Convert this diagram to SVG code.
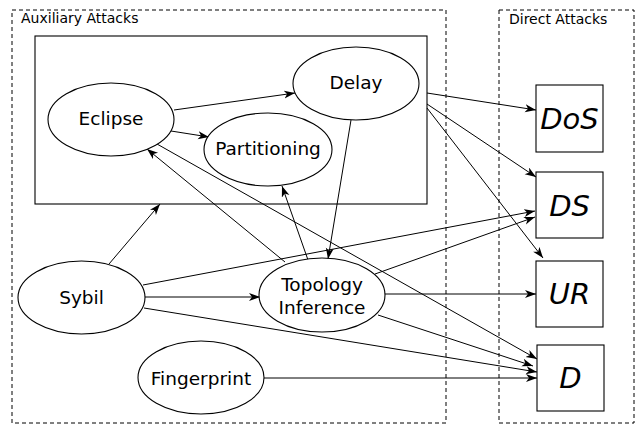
<svg xmlns="http://www.w3.org/2000/svg" width="639" height="425" viewBox="0 0 639 425">
<defs>
<marker id="ah" markerUnits="userSpaceOnUse" markerWidth="12" markerHeight="10" refX="11" refY="4" orient="auto">
<path d="M0,0 L11,4 L0,8 L3,4 z" fill="#000"/>
</marker>
<style>
.grp{fill:none;stroke:#000;stroke-width:1;stroke-dasharray:4,3}
.node{fill:#fff;stroke:#000;stroke-width:1.1}
.lbl{font-family:"DejaVu Sans",sans-serif;font-size:18.5px;text-anchor:middle;fill:#000}
.big{font-family:"DejaVu Sans",sans-serif;font-size:29px;font-style:italic;text-anchor:middle;fill:#000}
.gl{font-family:"DejaVu Sans",sans-serif;font-size:14px;fill:#000}
.e{fill:none;stroke:#000;stroke-width:1;marker-end:url(#ah)}
</style>
</defs>
<rect width="639" height="425" fill="#fff"/>
<g id="auxiliary">
<rect class="grp" x="12" y="10" width="434" height="413"/>
<text class="gl" x="21" y="23">Auxiliary Attacks</text>
</g>
<g id="direct">
<rect class="grp" x="499" y="10" width="135" height="413"/>
<text class="gl" x="509" y="24">Direct Attacks</text>
</g>
<g id="cluster">
<rect x="35" y="36" width="392" height="168" fill="none" stroke="#000" stroke-width="1.1"/>
</g>
<g id="connectors">
<line class="e" x1="174" y1="110" x2="295" y2="93"/>
<line class="e" x1="171" y1="131" x2="209" y2="137"/>
<line class="e" x1="427" y1="93" x2="536" y2="110"/>
<line class="e" x1="427" y1="104" x2="536" y2="177"/>
<line class="e" x1="427" y1="108" x2="543" y2="258"/>
<line class="e" x1="351" y1="120" x2="328" y2="259"/>
<line class="e" x1="285" y1="262" x2="147" y2="149"/>
<line class="e" x1="157" y1="144" x2="537" y2="359"/>
<line class="e" x1="308" y1="260" x2="282" y2="186"/>
<line class="e" x1="109" y1="264" x2="160" y2="204"/>
<line class="e" x1="143" y1="285" x2="535" y2="211"/>
<line class="e" x1="375" y1="274" x2="535" y2="217"/>
<line class="e" x1="145" y1="297" x2="260" y2="297"/>
<line class="e" x1="385" y1="294" x2="536" y2="294"/>
<line class="e" x1="378" y1="315" x2="533" y2="366"/>
<line class="e" x1="144" y1="308" x2="537" y2="372"/>
<line class="e" x1="264" y1="378" x2="537" y2="378"/>
</g>
<g id="eclipse">
<ellipse class="node" cx="111" cy="119.5" rx="63" ry="36.5"/>
<text class="lbl" x="111" y="125">Eclipse</text>
</g>
<g id="partitioning">
<ellipse class="node" cx="268" cy="149.5" rx="64" ry="36.5"/>
<text class="lbl" x="268" y="155">Partitioning</text>
</g>
<g id="delay">
<ellipse class="node" cx="356" cy="83.5" rx="63" ry="36.5"/>
<text class="lbl" x="356" y="89">Delay</text>
</g>
<g id="sybil">
<ellipse class="node" cx="81.5" cy="297.5" rx="63.5" ry="36.5"/>
<text class="lbl" x="81.5" y="304">Sybil</text>
</g>
<g id="topology">
<ellipse class="node" cx="322" cy="295" rx="63" ry="37"/>
<text class="lbl" x="322" y="291">Topology</text>
<text class="lbl" x="322" y="314">Inference</text>
</g>
<g id="fingerprint">
<ellipse class="node" cx="201" cy="377.5" rx="63" ry="36.5"/>
<text class="lbl" x="201" y="385">Fingerprint</text>
</g>
<g id="dos">
<rect class="node" x="536" y="85" width="67" height="67"/>
<text class="big" x="569.5" y="129">DoS</text>
</g>
<g id="ds">
<rect class="node" x="536" y="172" width="67" height="66"/>
<text class="big" x="569.5" y="216">DS</text>
</g>
<g id="ur">
<rect class="node" x="536" y="261" width="67" height="66"/>
<text class="big" x="569.5" y="304">UR</text>
</g>
<g id="d">
<rect class="node" x="537" y="345" width="67" height="66"/>
<text class="big" x="570.5" y="388">D</text>
</g>
</svg>
